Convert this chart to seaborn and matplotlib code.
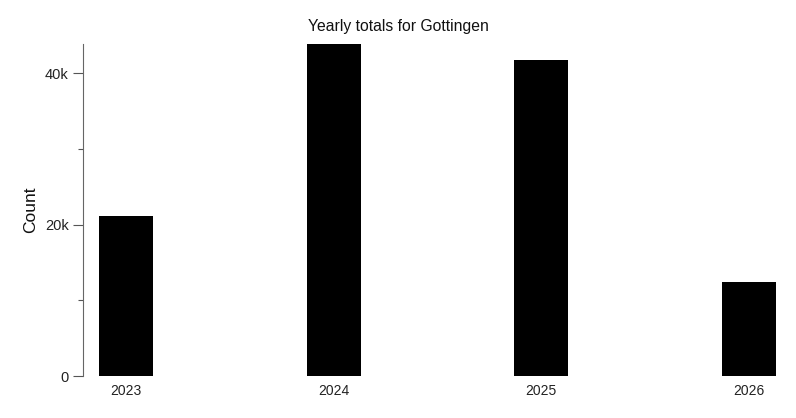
import matplotlib
matplotlib.use("Agg")
import matplotlib.pyplot as plt
import seaborn as sns
import pandas as pd
from matplotlib.ticker import FixedLocator, FuncFormatter

years = ["2023", "2024", "2025", "2026"]
counts = [21100, 43900, 41800, 12450]

df = pd.DataFrame({"year": years, "count": counts})

sns.set_theme(style="white")
plt.rcParams['font.family'] = ['Liberation Sans', 'DejaVu Sans']

fig = plt.figure(figsize=(7.96, 4.18), dpi=100)
ax = fig.add_axes([83/796, 42/418, (776-83)/796, (376-44)/418])

sns.barplot(data=df, x="year", y="count", color="black", saturation=1,
            width=0.26, linewidth=0, edgecolor="none", ax=ax)

ax.set_xlim(-0.207, 3.13)
ax.set_ylim(0, 43900)

ax.yaxis.set_major_locator(FixedLocator([0, 20000, 40000]))
ax.yaxis.set_minor_locator(FixedLocator([10000, 30000]))
ax.yaxis.set_major_formatter(FuncFormatter(lambda v, p: "0" if v == 0 else f"{int(v/1000)}k"))

ax.tick_params(axis="y", which="major", length=7.2, width=0.8, color="#555555",
               labelsize=10.5, labelcolor="#222222", left=True, pad=3)
ax.tick_params(axis="y", which="minor", length=3.6, width=0.8, color="#555555", left=True)
ax.tick_params(axis="x", length=0, labelsize=10, labelcolor="#222222", pad=6)

for s in ["top", "right", "bottom"]:
    ax.spines[s].set_visible(False)
ax.spines["left"].set_color("#666666")
ax.spines["left"].set_linewidth(0.8)

ax.set_xlabel("")
ax.set_ylabel("Count", fontsize=12.5, color="#111111", labelpad=5)
# title sits over the middle of the whole figure, not the axes
fig.suptitle("Yearly totals for Gottingen", fontsize=11.3, color="#111111",
             x=0.5, y=1 - 27/418, va="center")

fig.savefig("out.png", dpi=100)
